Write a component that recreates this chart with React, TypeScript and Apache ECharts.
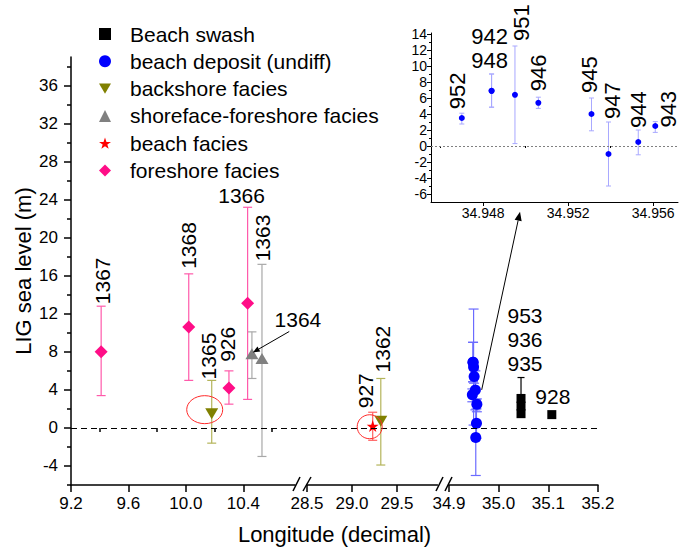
import React, { useEffect, useRef } from 'react';
import * as echarts from 'echarts';

const FONT = '"Liberation Sans", Arial, Helvetica, sans-serif';

// ---------------- data (longitude, LIG sea level, error-bar low / high) ----------------
const swashIds = ['953', '936', '935', '928'];
const swashLon = [35.045, 35.045, 35.045, 35.107];
const swashVal = [3.1, 2.3, 1.5, 1.4];
const swashLow: (number | null)[] = [1.2, null, null, null];
const swashHigh: (number | null)[] = [5.3, null, null, null];

const depIds = ['952', '948', '942', '951', '946', '945', '947', '944', '943'];
const depLon = [34.947, 34.9484, 34.9484, 34.9495, 34.9506, 34.9531, 34.9539, 34.9553, 34.9561];
const depVal = [3.5, 6.9, 6.9, 6.4, 5.4, 4.0, -1.0, 0.5, 2.5];
const depLow: (number | null)[] = [2.75, 4.85, 4.85, 0.3, 4.7, 1.9, -5.0, -1.1, 1.7];
const depHigh: (number | null)[] = [4.1, 9.0, 9.0, 12.5, 6.1, 6.0, 3.0, 2.0, 3.05];

const backIds = ['1365', '1362'];
const backLon = [10.18, 29.32];
const backVal = [1.5, 0.7];
const backLow: (number | null)[] = [-1.6, -3.9];
const backHigh: (number | null)[] = [5.0, 5.2];

const shoreIds = ['1364', '1363'];
const shoreLon = [10.46, 10.53];
const shoreVal = [7.8, 7.3];
const shoreLow: (number | null)[] = [5.2, -3.0];
const shoreHigh: (number | null)[] = [10.1, 17.2];

const beachIds = ['927'];
const beachLon = [29.23];
const beachVal = [0.2];
const beachLow: (number | null)[] = [-1.3];
const beachHigh: (number | null)[] = [1.65];

const foreIds = ['1367', '1368', '926', '1366'];
const foreLon = [9.41, 10.02, 10.3, 10.43];
const foreVal = [8.0, 10.6, 4.2, 13.1];
const foreLow: (number | null)[] = [3.4, 5.0, 2.5, 3.0];
const foreHigh: (number | null)[] = [12.8, 16.2, 6.0, 23.2];

// ---------------- axis ticks ----------------
const yMainTicks = [-4, 0, 4, 8, 12, 16, 20, 24, 28, 32, 36];
const yMainMinor = [-6, -2, 2, 6, 10, 14, 18, 22, 26, 30, 34, 38];
const seg1Ticks = [9.2, 9.6, 10.0, 10.4];
const seg1Minor = [9.4, 9.8, 10.2, 10.6];
const seg2Ticks = [28.5, 29.0, 29.5];
const seg3Ticks = [34.9, 35.0, 35.1, 35.2];
const insetXTicks = [34.948, 34.952, 34.956];
const insetXMinor = [34.946, 34.95, 34.954];
const insetYTicks = [-6, -4, -2, 0, 2, 4, 6, 8, 10, 12, 14];
const insetYMinor = [-5, -3, -1, 1, 3, 5, 7, 9, 11, 13];

// ---------------- annotations ----------------
const mainLabels = [
  { id: '1367', text: '1367', vertical: true, dx: 1, dy: -2 },
  { id: '1368', text: '1368', vertical: true, dx: 0, dy: -5 },
  { id: '926', text: '926', vertical: true, dx: -1, dy: -9 },
  { id: '1366', text: '1366', vertical: false, dx: -6, dy: 0 },
  { id: '1365', text: '1365', vertical: true, dx: -3, dy: -1 },
  { id: '1363', text: '1363', vertical: true, dx: 1, dy: -3 },
  { id: '1364', text: '1364', vertical: false, dx: 46, dy: 0 },
  { id: '927', text: '927', vertical: true, dx: -7, dy: -4 },
  { id: '1362', text: '1362', vertical: true, dx: 1.5, dy: -6 },
  { id: '953', text: '953\n936\n935', vertical: false, dx: 4, dy: -2 },
  { id: '928', text: '928', vertical: false, dx: 1, dy: -6.5 },
];
const insetLabels = [
  { id: '952', text: '952', vertical: true, dx: -4, dy: -4 },
  { id: '948', text: '942\n948', vertical: false, dx: -2, dy: -2 },
  { id: '951', text: '951', vertical: true, dx: 7, dy: -5 },
  { id: '946', text: '946', vertical: true, dx: 0, dy: -6 },
  { id: '945', text: '945', vertical: true, dx: -2, dy: -5 },
  { id: '947', text: '947', vertical: true, dx: 4, dy: -3 },
  { id: '944', text: '944', vertical: true, dx: 0, dy: -2 },
  { id: '943', text: '943', vertical: true, dx: 13, dy: 6 },
];
const rings = [
  { id: '1365', dx: -7, dy: -4, rx: 18, ry: 14 },
  { id: '927', dx: -3, dy: 0.7, rx: 12.5, ry: 12 },
];
const arrows = [
  { seg: 0, from: [10.72, 10.14], to: [10.466, 7.93], head: 7 },
  { seg: 2, from: [34.9658, 4.0], to: [35.043, 22.74], head: 9 },
];

// ---------------- styles ----------------
const starPath =
  'path://M50,0 L61.8,35.1 L98.5,35.1 L68.8,56.8 L79.4,91.5 L50,70 L20.6,91.5 L31.2,56.8 L1.5,35.1 L38.2,35.1 Z';
const downTri = 'path://M0,0 L100,0 L50,86.6 Z';

const cats = [
  { name: 'Beach swash', ids: swashIds, lon: swashLon, val: swashVal, low: swashLow, high: swashHigh,
    symbol: 'rect', size: 9 as any, color: '#000000', err: '#000000', cap: 7 },
  { name: 'beach deposit (undiff)', ids: depIds, lon: depLon, val: depVal, low: depLow, high: depHigh,
    symbol: 'circle', size: 11 as any, color: '#0000ff', err: '#6b6bff', cap: 10 },
  { name: 'backshore facies', ids: backIds, lon: backLon, val: backVal, low: backLow, high: backHigh,
    symbol: downTri, size: [13, 11] as any, color: '#808000', err: '#b4b45a', cap: 9 },
  { name: 'shoreface-foreshore facies', ids: shoreIds, lon: shoreLon, val: shoreVal, low: shoreLow, high: shoreHigh,
    symbol: 'triangle', size: [13, 11] as any, color: '#808080', err: '#a8a8a8', cap: 9 },
  { name: 'beach facies', ids: beachIds, lon: beachLon, val: beachVal, low: beachLow, high: beachHigh,
    symbol: starPath, size: 12 as any, color: '#ff0000', err: '#ff6060', cap: 9 },
  { name: 'foreshore facies', ids: foreIds, lon: foreLon, val: foreVal, low: foreLow, high: foreHigh,
    symbol: 'diamond', size: 13 as any, color: '#ff0d87', err: '#ff5aaa', cap: 9 },
];

// segment -> [xAxisIndex, yAxisIndex]
const segAxes = [
  [0, 0],
  [2, 2],
  [3, 3],
];
const INSET_AX = [4, 4];
const segOf = (lon: number) => (lon < 20 ? 0 : lon < 32 ? 1 : 2);

function errSeries(name: string, ax: number[], rows: number[][], color: string, cap: number, lw: number) {
  return {
    type: 'custom',
    name,
    xAxisIndex: ax[0],
    yAxisIndex: ax[1],
    z: 2,
    silent: true,
    clip: false,
    data: rows,
    encode: { x: 0, y: [1, 2] },
    renderItem: (_p: any, api: any) => {
      const x = api.value(0);
      const a = api.coord([x, api.value(1)]);
      const b = api.coord([x, api.value(2)]);
      const h = cap / 2;
      const st = { stroke: color, lineWidth: lw };
      return {
        type: 'group',
        children: [
          { type: 'line', shape: { x1: a[0], y1: a[1], x2: b[0], y2: b[1] }, style: st },
          { type: 'line', shape: { x1: a[0] - h, y1: a[1], x2: a[0] + h, y2: a[1] }, style: st },
          { type: 'line', shape: { x1: b[0] - h, y1: b[1], x2: b[0] + h, y2: b[1] }, style: st },
        ],
      };
    },
  };
}

function annotSeries(ax: number[], items: any[]) {
  return {
    type: 'custom',
    name: 'annot',
    xAxisIndex: ax[0],
    yAxisIndex: ax[1],
    z: 5,
    silent: true,
    clip: false,
    data: items.map((it) => [it.lon, it.val]),
    encode: { x: 0, y: 1 },
    renderItem: (params: any, api: any) => {
      const it = items[params.dataIndex];
      const p = api.coord([api.value(0), api.value(1)]);
      if (it.kind === 'ring') {
        return {
          type: 'ellipse',
          shape: { cx: p[0] + it.dx, cy: p[1] + it.dy, rx: it.rx, ry: it.ry },
          style: { fill: 'none', stroke: '#ff2a2a', lineWidth: 1 },
        };
      }
      return {
        type: 'text',
        x: p[0] + it.dx,
        y: p[1] + it.dy,
        rotation: it.vertical ? Math.PI / 2 : 0,
        style: {
          text: it.text,
          fontSize: it.fontSize,
          fontFamily: FONT,
          fill: '#000',
          lineHeight: 24,
          align: it.vertical ? 'left' : 'center',
          verticalAlign: it.vertical ? 'middle' : 'bottom',
        },
      };
    },
  };
}

function arrowSeries(ax: number[], list: any[]) {
  return {
    type: 'custom',
    name: 'arrows',
    xAxisIndex: ax[0],
    yAxisIndex: ax[1],
    z: 6,
    silent: true,
    clip: false,
    data: list.map((a) => [a.from[0], a.from[1], a.to[0], a.to[1]]),
    encode: { x: [0, 2], y: [1, 3] },
    renderItem: (params: any, api: any) => {
      const a = list[params.dataIndex];
      const p0 = api.coord([api.value(0), api.value(1)]);
      const p1 = api.coord([api.value(2), api.value(3)]);
      const ang = Math.atan2(p1[1] - p0[1], p1[0] - p0[0]);
      const c = Math.cos(ang);
      const s = Math.sin(ang);
      const L = a.head;
      const W = a.head * 0.4;
      const bx = p1[0] - L * c;
      const by = p1[1] - L * s;
      return {
        type: 'group',
        children: [
          { type: 'line', shape: { x1: p0[0], y1: p0[1], x2: bx, y2: by }, style: { stroke: '#000', lineWidth: 1 } },
          {
            type: 'polygon',
            shape: { points: [[p1[0], p1[1]], [bx + W * s, by - W * c], [bx - W * s, by + W * c]] },
            style: { fill: '#000' },
          },
        ],
      };
    },
  };
}

function buildOption() {
  const pts: Record<string, { lon: number; val: number; high: number | null }> = {};
  cats.forEach((c) => c.ids.forEach((id, i) => (pts[id] = { lon: c.lon[i], val: c.val[i], high: c.high[i] })));

  const black = { color: '#000', width: 1.5 };
  const thin = { color: '#000', width: 1 };
  const mainLbl = { color: '#000', fontFamily: FONT, fontSize: 17 };
  const insetLbl = { color: '#000', fontFamily: FONT, fontSize: 14 };
  const noSplit = { show: false };

  const xMajor = (gridIndex: number, min: number, max: number, ticks: number[], dec: number) => ({
    type: 'value', gridIndex, min, max, position: 'bottom',
    axisLine: { show: true, onZero: false, lineStyle: black },
    axisTick: { show: true, length: 7, lineStyle: black, customValues: ticks },
    axisLabel: { ...mainLbl, margin: 10, customValues: ticks, formatter: (v: number) => v.toFixed(dec) },
    splitLine: noSplit,
  });

  const xAxis: any[] = [
    xMajor(0, 9.2, 10.76, seg1Ticks, 1),
    { type: 'value', gridIndex: 0, min: 9.2, max: 10.76, position: 'bottom',
      axisLine: { show: false }, axisLabel: { show: false }, splitLine: noSplit,
      axisTick: { show: true, length: 4, lineStyle: black, customValues: seg1Minor } },
    xMajor(1, 28.5, 29.95, seg2Ticks, 1),
    xMajor(2, 34.9, 35.2, seg3Ticks, 1),
    { type: 'value', gridIndex: 3, min: 34.94555, max: 34.95717, position: 'bottom',
      axisLine: { show: true, onZero: false, lineStyle: thin },
      axisTick: { show: true, length: 4, lineStyle: thin, customValues: insetXTicks },
      axisLabel: { ...insetLbl, margin: 4, customValues: insetXTicks, formatter: (v: number) => v.toFixed(3) },
      splitLine: noSplit },
    { type: 'value', gridIndex: 3, min: 34.94555, max: 34.95717, position: 'bottom',
      axisLine: { show: false }, axisLabel: { show: false }, splitLine: noSplit,
      axisTick: { show: true, length: 2, lineStyle: thin, customValues: insetXMinor } },
    { type: 'value', gridIndex: 4, min: 0, max: 1, position: 'bottom',
      axisLine: { show: false }, axisTick: { show: false }, axisLabel: { show: false }, splitLine: noSplit,
      name: 'Longitude (decimal)', nameLocation: 'middle', nameGap: 38,
      nameTextStyle: { fontSize: 22, fontFamily: FONT, color: '#000' } },
  ];

  const yAxis: any[] = [
    { type: 'value', gridIndex: 0, min: -6, max: 39, position: 'left',
      axisLine: { show: true, onZero: false, lineStyle: black },
      axisTick: { show: true, length: 7, lineStyle: black, customValues: yMainTicks },
      axisLabel: { ...mainLbl, margin: 13, customValues: yMainTicks },
      splitLine: noSplit,
      name: 'LIG sea level (m)', nameLocation: 'middle', nameGap: 37,
      nameTextStyle: { fontSize: 22, fontFamily: FONT, color: '#000' } },
    { type: 'value', gridIndex: 0, min: -6, max: 39, position: 'left',
      axisLine: { show: false }, axisLabel: { show: false }, splitLine: noSplit,
      axisTick: { show: true, length: 4, lineStyle: black, customValues: yMainMinor } },
    { type: 'value', gridIndex: 1, min: -6, max: 39, show: false },
    { type: 'value', gridIndex: 2, min: -6, max: 39, show: false },
    { type: 'value', gridIndex: 3, min: -7, max: 14.125, position: 'left',
      axisLine: { show: true, onZero: false, lineStyle: thin },
      axisTick: { show: true, length: 4, lineStyle: thin, customValues: insetYTicks },
      axisLabel: { ...insetLbl, margin: 4, customValues: insetYTicks },
      splitLine: noSplit },
    { type: 'value', gridIndex: 3, min: -7, max: 14.125, position: 'left',
      axisLine: { show: false }, axisLabel: { show: false }, splitLine: noSplit,
      axisTick: { show: true, length: 2, lineStyle: thin, customValues: insetYMinor } },
    { type: 'value', gridIndex: 4, min: -6, max: 39, show: false },
  ];

  const series: any[] = [];

  // zero reference lines
  series.push({
    type: 'line', name: 'zero', xAxisIndex: 6, yAxisIndex: 6, data: [], z: 1, silent: true,
    markLine: { silent: true, symbol: 'none', label: { show: false },
      lineStyle: { color: '#000', type: [6, 4], width: 1.2 }, data: [{ yAxis: 0 }] },
  });
  series.push({
    type: 'line', name: 'zero2', xAxisIndex: INSET_AX[0], yAxisIndex: INSET_AX[1], data: [], z: 1, silent: true,
    markLine: { silent: true, symbol: 'none', label: { show: false },
      lineStyle: { color: '#808080', type: [2, 2], width: 1 }, data: [{ yAxis: 0 }] },
  });

  cats.forEach((c) => {
    for (let s = 0; s < 3; s++) {
      const idx = c.ids.map((_, i) => i).filter((i) => segOf(c.lon[i]) === s);
      if (!idx.length) continue;
      const ax = segAxes[s];
      const errRows = idx
        .filter((i) => c.low[i] != null && c.high[i] != null)
        .map((i) => [c.lon[i], c.low[i] as number, c.high[i] as number]);
      if (errRows.length) series.push(errSeries(c.name + ' err', ax, errRows, c.err, c.cap, 1.2));
      series.push({
        type: 'scatter', name: c.name, xAxisIndex: ax[0], yAxisIndex: ax[1], z: 3, silent: true,
        symbol: c.symbol, symbolSize: c.size,
        itemStyle: { color: c.color, opacity: 1 },
        data: idx.map((i) => [c.lon[i], c.val[i]]),
      });
    }
  });

  // inset: beach deposit zoom
  const dep = cats[1];
  series.push(errSeries('inset err', INSET_AX,
    dep.ids.map((_, i) => [dep.lon[i], dep.low[i] as number, dep.high[i] as number]), '#a8a8ff', 5, 1));
  series.push({
    type: 'scatter', name: dep.name, xAxisIndex: INSET_AX[0], yAxisIndex: INSET_AX[1], z: 3, silent: true,
    symbol: 'circle', symbolSize: 6, itemStyle: { color: dep.color, opacity: 1 },
    data: dep.ids.map((_, i) => [dep.lon[i], dep.val[i]]),
  });

  // annotations per panel
  const segItems: any[][] = [[], [], []];
  mainLabels.forEach((l) => {
    const p = pts[l.id];
    segItems[segOf(p.lon)].push({ ...l, kind: 'text', fontSize: 21, lon: p.lon, val: p.high ?? p.val });
  });
  rings.forEach((r) => {
    const p = pts[r.id];
    segItems[segOf(p.lon)].push({ ...r, kind: 'ring', lon: p.lon, val: p.val });
  });
  segItems.forEach((items, s) => {
    if (items.length) series.push(annotSeries(segAxes[s], items));
  });
  series.push(
    annotSeries(INSET_AX, insetLabels.map((l) => {
      const p = pts[l.id];
      return { ...l, kind: 'text', fontSize: 22, lon: p.lon, val: p.high ?? p.val };
    }))
  );

  [0, 1, 2].forEach((s) => {
    const list = arrows.filter((a) => a.seg === s);
    if (list.length) series.push(arrowSeries(segAxes[s], list));
  });

  return {
    animation: false,
    backgroundColor: '#fff',
    textStyle: { fontFamily: FONT },
    grid: [
      { left: 71, top: 57, width: 224, height: 428, outerBoundsMode: 'none' },
      { left: 307, top: 57, width: 130.5, height: 428, outerBoundsMode: 'none' },
      { left: 449, top: 57, width: 149, height: 428, outerBoundsMode: 'none' },
      { left: 431, top: 33, width: 247, height: 169, outerBoundsMode: 'none' },
      { left: 71, top: 57, width: 527, height: 428, outerBoundsMode: 'none' },
    ],
    xAxis,
    yAxis,
    legend: {
      orient: 'vertical', left: 94, top: 18, itemWidth: 12, itemHeight: 12, itemGap: 5.3,
      selectedMode: false,
      textStyle: { fontSize: 21, fontFamily: FONT, color: '#000', lineHeight: 22, padding: [0, 0, 0, 14] },
      data: cats.map((c) => c.name),
    },
    graphic: [
      { type: 'line', shape: { x1: 293, y1: 491, x2: 300, y2: 477 }, style: { stroke: '#000', lineWidth: 1.5 } },
      { type: 'line', shape: { x1: 303, y1: 491, x2: 311, y2: 477 }, style: { stroke: '#000', lineWidth: 1.5 } },
      { type: 'line', shape: { x1: 436, y1: 491, x2: 443, y2: 477 }, style: { stroke: '#000', lineWidth: 1.5 } },
      { type: 'line', shape: { x1: 445, y1: 491, x2: 452, y2: 477 }, style: { stroke: '#000', lineWidth: 1.5 } },
    ],
    series,
  };
}

export default function App() {
  const ref = useRef<HTMLDivElement>(null);
  useEffect(() => {
    const chart = echarts.init(ref.current as HTMLDivElement, null, { renderer: 'svg' });
    chart.setOption(buildOption() as any);
    return () => chart.dispose();
  }, []);
  return (
    <div
      ref={ref}
      style={{ position: 'fixed', left: 0, top: 0, width: 680, height: 550, background: '#fff' }}
    />
  );
}
